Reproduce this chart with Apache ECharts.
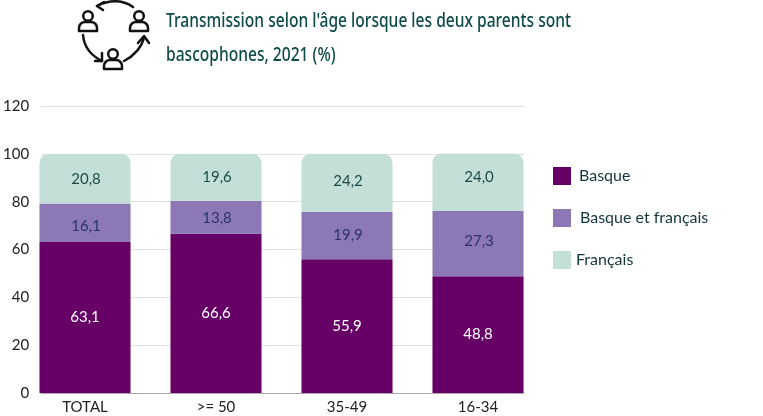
<!DOCTYPE html>
<html><head><meta charset="utf-8">
<style>html,body{margin:0;padding:0;background:#fff}#c{width:763px;height:416px}</style>
<script src="https://cdn.jsdelivr.net/npm/echarts@6/dist/echarts.min.js"></script>
</head><body><div id="c"></div>
<script>
const categories = ['TOTAL', '>= 50', '35-49', '16-34'];
const basque = [63.1, 66.6, 55.9, 48.8];
const basqueFrancais = [16.1, 13.8, 19.9, 27.3];
const francais = [20.8, 19.6, 24.2, 24.0];
const seriesNames = ['Basque', 'Basque et français', 'Français'];
const titleLines = ["Transmission selon l'âge lorsque les deux parents sont", 'bascophones, 2021 (%)'];
const midNudge = [3, 1, 0, -2];
const topNudge = [0, 0, -2, -5];
const fmt = p => p.value.toFixed(1).replace('.', ',');
const nudged = (values, nudges) => values.map((value, i) => ({value, label:{offset:[1, nudges[i]]}}));
const FONT = 'Lato';
const ink = '#12363a';
const iconStroke = {fill:'none', stroke:'#111', lineWidth:2.5, lineCap:'round', lineJoin:'round'};
const person = (cx, cy) => [
  {type:'circle', shape:{cx, cy:cy-5, r:4.8}, style:iconStroke},
  {type:'rect', shape:{x:cx-9, y:cy+1, width:18, height:9, r:[6,6,0,0]}, style:iconStroke}
];
const curve = (x1,y1,cpx1,cpy1,cpx2,cpy2,x2,y2) => ({type:'bezierCurve', shape:{x1,y1,cpx1,cpy1,cpx2,cpy2,x2,y2}, style:iconStroke});
const head = points => ({type:'polyline', shape:{points}, style:iconStroke});
const titleLine = (text, y) => ({type:'text', x:166, y, scaleX:0.82, style:{text, fontFamily:'Noto Sans', fontSize:19, fontWeight:500, fill:'#0d4a48', textVerticalAlign:'middle'}});
const chart = echarts.init(document.getElementById('c'), null, {renderer:'canvas'});
chart.setOption({
  animation:false,
  backgroundColor:'#fff',
  textStyle:{fontFamily:FONT},
  legend:{
    orient:'vertical', left:553, top:167, itemWidth:18, itemHeight:18, itemGap:24, icon:'rect', padding:0,
    selectedMode:false,
    data:[
      {name:seriesNames[0], textStyle:{padding:[0,0,12,3]}},
      {name:seriesNames[1], textStyle:{padding:[0,0,8,4]}},
      {name:seriesNames[2], textStyle:{padding:[0,0,10,0]}}
    ],
    textStyle:{fontFamily:FONT, fontSize:16, color:ink}
  },
  grid:[
    {left:19.5, width:524, top:106, height:287},
    {left:39, width:485, top:106, height:287}
  ],
  xAxis:[
    {type:'category', gridIndex:0, data:categories, axisLine:{show:false}, axisTick:{show:false},
     axisLabel:{interval:0, margin:7, fontFamily:FONT, fontSize:15, color:'#222'}},
    {type:'category', gridIndex:1, data:categories, axisLine:{show:true, lineStyle:{color:'#aaa', width:1}}, axisTick:{show:false}, axisLabel:{show:false}}
  ],
  yAxis:[
    {type:'value', gridIndex:0, min:0, max:120, interval:20, show:false},
    {type:'value', gridIndex:1, min:0, max:120, interval:20, axisLine:{show:false}, axisTick:{show:false},
     axisLabel:{margin:12, fontFamily:FONT, fontSize:15, color:'#222'},
     splitLine:{lineStyle:{color:'#e0e0e0', width:1}}}
  ],
  series:[
    {name:seriesNames[0], type:'bar', stack:'t', data:basque, barCategoryGap:'30.5%', itemStyle:{color:'#660066'},
     label:{show:true, position:'inside', formatter:fmt, color:'#fff', fontFamily:FONT, fontSize:15}},
    {name:seriesNames[1], type:'bar', stack:'t', data:nudged(basqueFrancais, midNudge), itemStyle:{color:'#8b78b4'},
     label:{show:true, position:'inside', formatter:fmt, color:'#2a3566', fontFamily:FONT, fontSize:15}},
    {name:seriesNames[2], type:'bar', stack:'t', data:nudged(francais, topNudge), itemStyle:{color:'#c3dfd8', borderRadius:[9,9,0,0]},
     label:{show:true, position:'inside', formatter:fmt, color:'#1f4a48', fontFamily:FONT, fontSize:15}}
  ],
  graphic:{elements:[
    titleLine(titleLines[0], 22), titleLine(titleLines[1], 56),
    ...person(88,21), ...person(139,21), ...person(113,59),
    curve(133,7,122,-1,108,0,97,6), head([[104,2],[97,6],[103,10]]),
    curve(83,35,84,47,92,56,102,61), head([[95,61],[102,61],[102,53]]),
    curve(124,61,134,56,142,47,144,37), head([[138,43],[144,36],[149,43]])
  ]}
});
</script></body></html>
